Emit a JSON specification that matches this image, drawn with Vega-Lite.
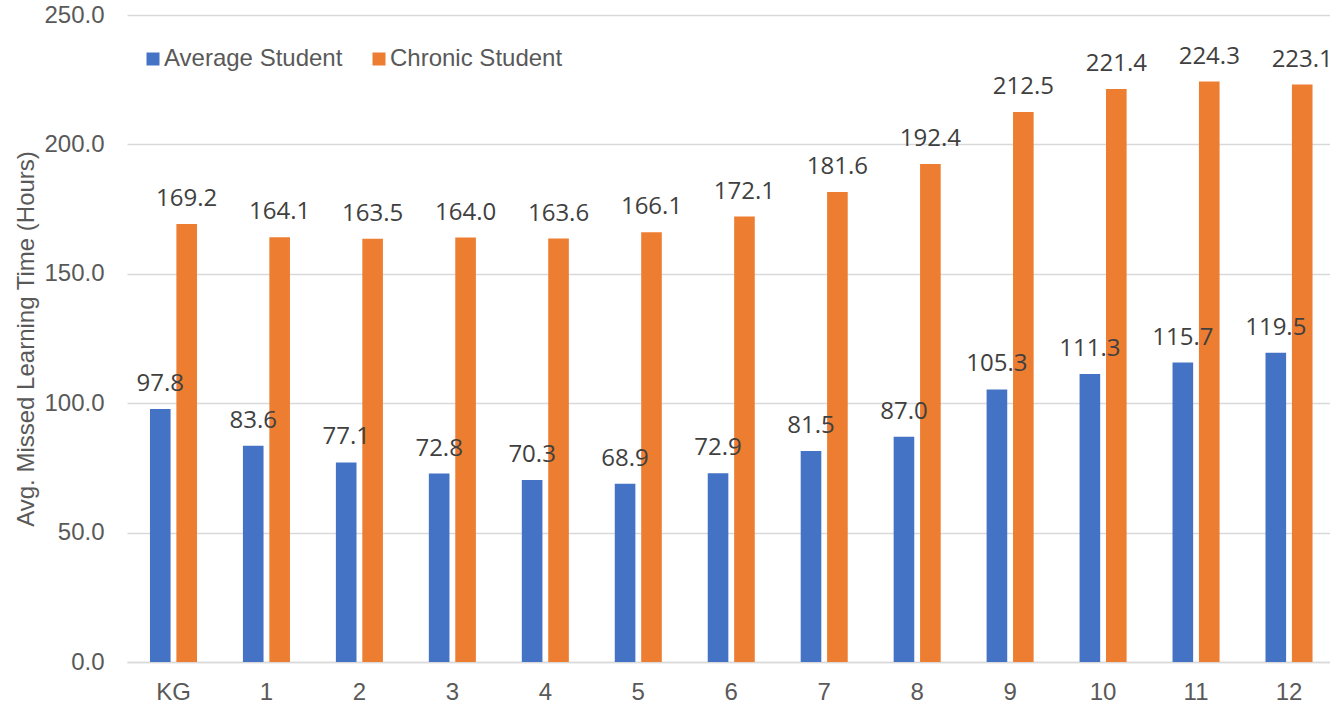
{
  "$schema": "https://vega.github.io/schema/vega-lite/v6.json",
  "width": 1203,
  "height": 647,
  "autosize": "none",
  "padding": {"left": 127, "top": 15, "right": 0, "bottom": 42},
  "background": "white",
  "config": {"view": {"stroke": null}},
  "data": {"values": [
    {"grade": "KG", "series": "Average Student", "hours": 97.8},
    {"grade": "KG", "series": "Chronic Student", "hours": 169.2},
    {"grade": "1", "series": "Average Student", "hours": 83.6},
    {"grade": "1", "series": "Chronic Student", "hours": 164.1},
    {"grade": "2", "series": "Average Student", "hours": 77.1},
    {"grade": "2", "series": "Chronic Student", "hours": 163.5},
    {"grade": "3", "series": "Average Student", "hours": 72.8},
    {"grade": "3", "series": "Chronic Student", "hours": 164.0},
    {"grade": "4", "series": "Average Student", "hours": 70.3},
    {"grade": "4", "series": "Chronic Student", "hours": 163.6},
    {"grade": "5", "series": "Average Student", "hours": 68.9},
    {"grade": "5", "series": "Chronic Student", "hours": 166.1},
    {"grade": "6", "series": "Average Student", "hours": 72.9},
    {"grade": "6", "series": "Chronic Student", "hours": 172.1},
    {"grade": "7", "series": "Average Student", "hours": 81.5},
    {"grade": "7", "series": "Chronic Student", "hours": 181.6},
    {"grade": "8", "series": "Average Student", "hours": 87.0},
    {"grade": "8", "series": "Chronic Student", "hours": 192.4},
    {"grade": "9", "series": "Average Student", "hours": 105.3},
    {"grade": "9", "series": "Chronic Student", "hours": 212.5},
    {"grade": "10", "series": "Average Student", "hours": 111.3},
    {"grade": "10", "series": "Chronic Student", "hours": 221.4},
    {"grade": "11", "series": "Average Student", "hours": 115.7},
    {"grade": "11", "series": "Chronic Student", "hours": 224.3},
    {"grade": "12", "series": "Average Student", "hours": 119.5},
    {"grade": "12", "series": "Chronic Student", "hours": 223.1}
  ]},
  "encoding": {
    "x": {
      "field": "grade", "type": "nominal",
      "sort": ["KG", "1", "2", "3", "4", "5", "6", "7", "8", "9", "10", "11", "12"],
      "scale": {"paddingInner": 0.494, "paddingOuter": 0.2175, "align": 0.568},
      "axis": {
        "title": null, "labelAngle": 0, "labelFont": "Liberation Sans", "labelFontSize": 24,
        "labelColor": "#595959", "labelPadding": 18, "ticks": false,
        "domain": true, "domainColor": "#d9d9d9", "domainWidth": 1.3, "grid": false
      }
    },
    "xOffset": {
      "field": "series", "type": "nominal",
      "sort": ["Average Student", "Chronic Student"],
      "scale": {"paddingInner": 0.22, "paddingOuter": 0}
    },
    "y": {
      "field": "hours", "type": "quantitative",
      "scale": {"domain": [0, 250], "nice": false},
      "axis": {
        "values": [0, 50, 100, 150, 200, 250], "format": ".1f",
        "grid": true, "gridColor": "#d9d9d9", "gridWidth": 1.3,
        "domain": false, "ticks": false,
        "labelFont": "Liberation Sans", "labelFontSize": 24, "labelColor": "#595959", "labelPadding": 23,
        "title": "Avg. Missed Learning Time (Hours)", "titleFont": "Liberation Sans", "titleFontSize": 24,
        "titleFontWeight": "normal", "titleColor": "#595959", "titlePadding": 5
      }
    }
  },
  "layer": [
    {
      "mark": {"type": "bar"},
      "encoding": {
        "color": {
          "field": "series", "type": "nominal",
          "scale": {"domain": ["Average Student", "Chronic Student"], "range": ["#4472C4", "#ED7D31"]},
          "legend": {
            "title": null, "orient": "none", "direction": "horizontal",
            "legendX": 14, "legendY": 32,
            "symbolType": "square", "symbolSize": 169, "symbolStrokeWidth": 0,
            "labelFont": "Liberation Sans", "labelFontSize": 24, "labelColor": "#595959",
            "labelOffset": -1, "columnPadding": 24, "labelLimit": 400
          }
        }
      }
    },
    {
      "mark": {"type": "text", "baseline": "alphabetic", "dy": -18, "font": "Open Sans", "fontSize": 24, "color": "#404040"},
      "encoding": {"text": {"field": "hours", "type": "quantitative", "format": ".1f"}}
    }
  ]
}
